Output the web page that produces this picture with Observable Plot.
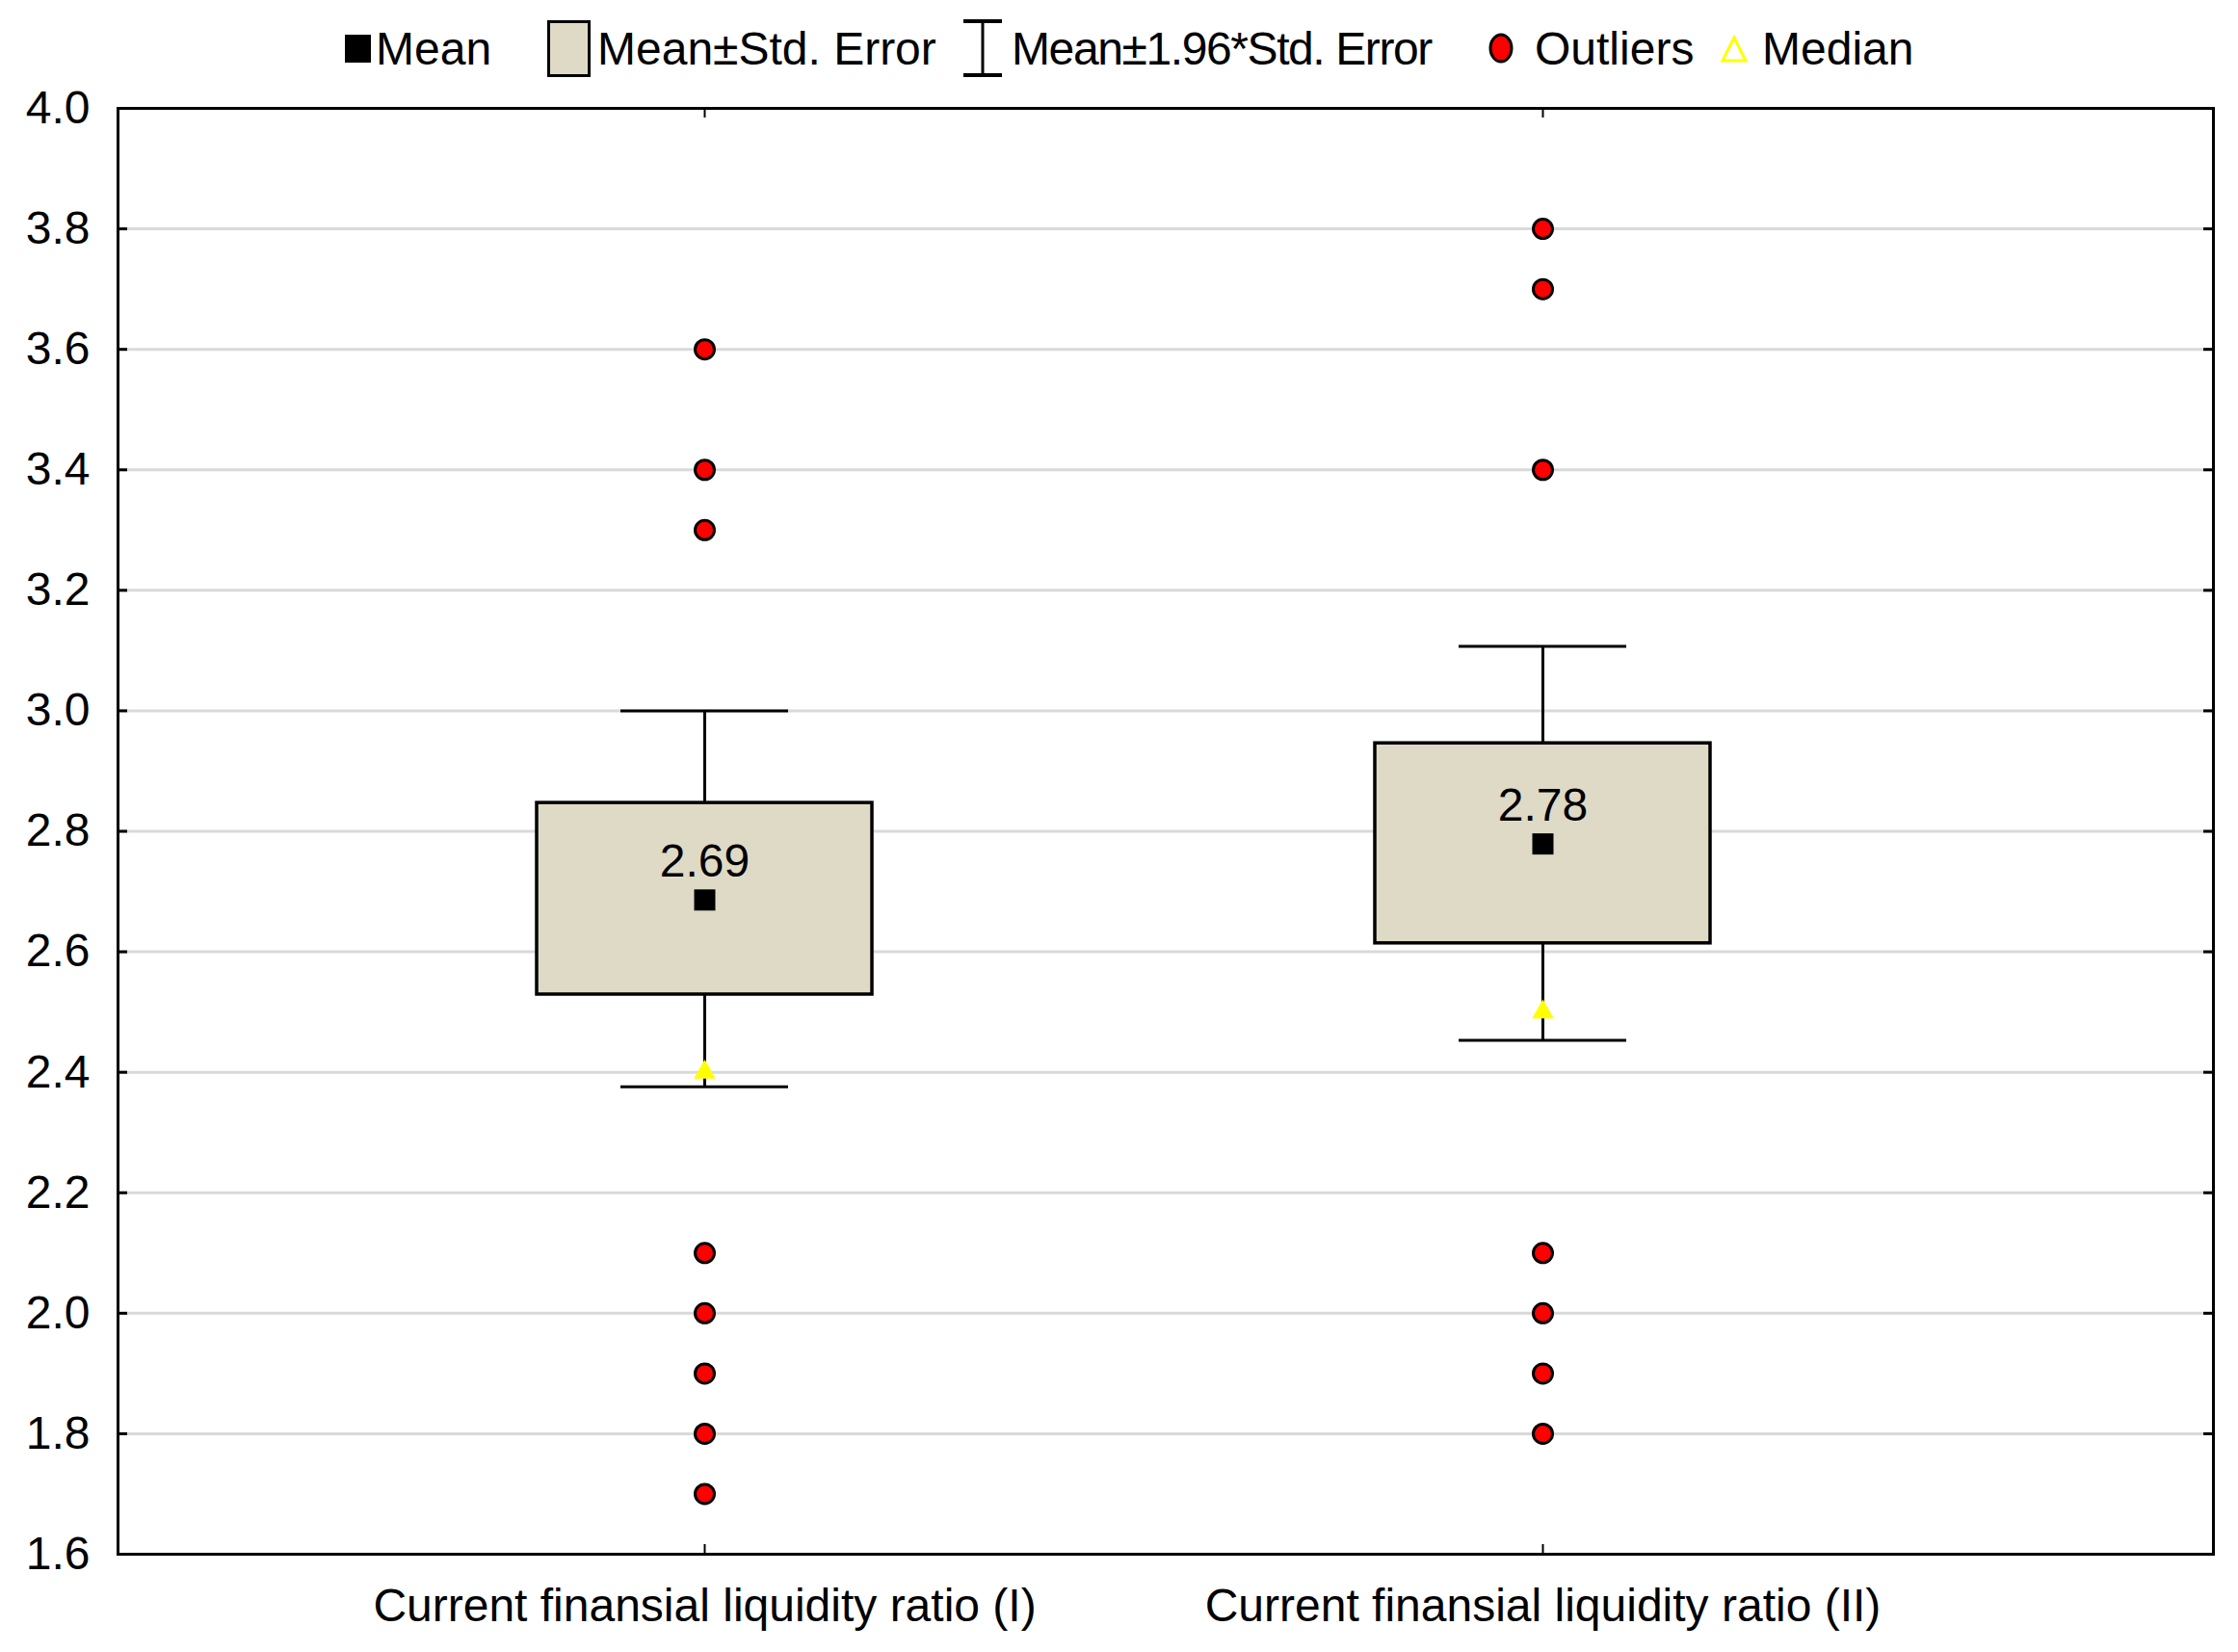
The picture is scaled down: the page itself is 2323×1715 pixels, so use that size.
<!DOCTYPE html>
<html>
<head>
<meta charset="utf-8">
<script src="https://cdn.jsdelivr.net/npm/d3@7"></script>
<script src="https://cdn.jsdelivr.net/npm/@observablehq/plot@0.6"></script>
<style>
  html, body { margin: 0; padding: 0; background: #fff; }
  #wrap { width: 2323px; }
  #legend { position: relative; width: 2323px; height: 80px; font-family: "Liberation Sans", Arial, sans-serif; font-size: 48px; line-height: 48px; color: #000; }
  #legend .t { position: absolute; top: 27px; white-space: nowrap; }
  #legend .ic { position: absolute; }
</style>
</head>
<body>
<div id="wrap">
  <div id="legend">
    <div class="ic" style="left:358px; top:36px; width:27px; height:29px; background:#000;"></div>
    <span class="t" style="left:390px;">Mean</span>
    <div class="ic" style="left:568px; top:21px; width:39px; height:53px; background:#dfdac5; border:3px solid #000;"></div>
    <span class="t" style="left:620px;">Mean±Std. Error</span>
    <svg class="ic" style="left:998px; top:19px;" width="44" height="62">
      <line x1="2" x2="42" y1="3" y2="3" stroke="#000" stroke-width="4"/>
      <line x1="2" x2="42" y1="59" y2="59" stroke="#000" stroke-width="4"/>
      <line x1="22" x2="22" y1="3" y2="59" stroke="#000" stroke-width="3"/>
    </svg>
    <span class="t" style="left:1050px; letter-spacing:-1.4px;">Mean±1.96*Std. Error</span>
    <svg class="ic" style="left:1543px; top:33px;" width="30" height="34">
      <ellipse cx="15" cy="17" rx="11" ry="14" fill="#ff0000" stroke="#000" stroke-width="3"/>
    </svg>
    <span class="t" style="left:1593px;">Outliers</span>
    <svg class="ic" style="left:1784px; top:36px;" width="32" height="30">
      <polygon points="16,3 28,27 4,27" fill="none" stroke="#ffff00" stroke-width="3"/>
    </svg>
    <span class="t" style="left:1829px;">Median</span>
  </div>
  <div id="chart"></div>
</div>
<script>
// ---- data ----
const categories = ["Current finansial liquidity ratio (I)", "Current finansial liquidity ratio (II)"];
const means   = [2.686, 2.779];
const seLow   = [2.529, 2.614];
const seHigh  = [2.847, 2.946];
const ciLow   = [2.376, 2.453];
const ciHigh  = [3.000, 3.107];
const medians = [2.40, 2.50];
const outliersI  = [3.6, 3.4, 3.3, 2.1, 2.0, 1.9, 1.8, 1.7];
const outliersII = [3.8, 3.7, 3.4, 2.1, 2.0, 1.9, 1.8];
const yTicks = [1.6, 1.8, 2.0, 2.2, 2.4, 2.6, 2.8, 3.0, 3.2, 3.4, 3.6, 3.8, 4.0];

// ---- tables built from the arrays ----
const rows = categories.map((c, i) => ({
  x: i + 1, cat: c, mean: means[i], seLow: seLow[i], seHigh: seHigh[i],
  ciLow: ciLow[i], ciHigh: ciHigh[i], median: medians[i]
}));
const outliers = [outliersI, outliersII].flatMap((arr, i) => arr.map(v => ({x: i + 1, v})));
const catX = rows.map(d => d.x);
const innerTicks = yTicks.slice(1, -1);

const W = 2323, H = 1635;
const mL = 122, mR = 26, mT = 32, mB = 102;
const innerW = W - mL - mR, innerH = H - mT - mB;
const boxHalf = 0.2, capHalf = 0.1;
const font = "'Liberation Sans', Arial, sans-serif";

const chart = Plot.plot({
  width: W, height: H,
  marginLeft: mL, marginRight: mR, marginTop: mT, marginBottom: mB,
  style: {fontFamily: font, fontSize: "48px", color: "#000", background: "#fff", overflow: "visible"},
  x: {domain: [0.3, 2.8]},
  y: {domain: [1.6, 4.0]},
  marks: [
    Plot.gridY(innerTicks, {stroke: "#d9d9d9", strokeOpacity: 1, strokeWidth: 3}),
    // y ticks inside the frame (left and right)
    Plot.tickY(innerTicks, {y: d => d, stroke: "#000", strokeWidth: 3, insetRight: innerW - 10}),
    Plot.tickY(innerTicks, {y: d => d, stroke: "#000", strokeWidth: 3, insetLeft: innerW - 10}),
    // x ticks inside the frame (top and bottom)
    Plot.tickX(catX, {x: d => d, stroke: "#000", strokeWidth: 2, insetTop: innerH - 10}),
    Plot.tickX(catX, {x: d => d, stroke: "#000", strokeWidth: 2, insetBottom: innerH - 10}),
    Plot.axisY(yTicks, {anchor: "left", tickSize: 0, tickPadding: 29, tickFormat: d3.format(".1f"), fontSize: 48, fill: "#000"}),
    Plot.axisX(catX, {anchor: "bottom", tickSize: 0, tickPadding: 35, tickFormat: d => categories[d - 1], fontSize: 48, fill: "#000", label: null}),
    Plot.frame({stroke: "#000", strokeWidth: 3}),
    // whiskers (mean ± 1.96 SE)
    Plot.ruleX(rows, {x: "x", y1: "seHigh", y2: "ciHigh", stroke: "#000", strokeWidth: 3}),
    Plot.ruleX(rows, {x: "x", y1: "ciLow", y2: "seLow", stroke: "#000", strokeWidth: 3}),
    Plot.ruleY(rows, {y: "ciHigh", x1: d => d.x - capHalf, x2: d => d.x + capHalf, stroke: "#000", strokeWidth: 3}),
    Plot.ruleY(rows, {y: "ciLow", x1: d => d.x - capHalf, x2: d => d.x + capHalf, stroke: "#000", strokeWidth: 3}),
    // box (mean ± SE)
    Plot.rect(rows, {x1: d => d.x - boxHalf, x2: d => d.x + boxHalf, y1: "seLow", y2: "seHigh", fill: "#dfdac5", stroke: "#000", strokeWidth: 3.5}),
    // mean
    Plot.dot(rows, {x: "x", y: "mean", symbol: "square", r: 12.4, fill: "#000", stroke: "none"}),
    Plot.text(rows, {x: "x", y: "mean", text: d => d.mean.toFixed(2), dy: -24, lineAnchor: "bottom", fontSize: 48, fill: "#000"}),
    // median
    Plot.dot(rows, {x: "x", y: "median", symbol: "triangle", r: 8.4, fill: "#ffff00", stroke: "none"}),
    // outliers
    Plot.dot(outliers, {x: "x", y: "v", r: 10, fill: "#ff0000", stroke: "#000", strokeWidth: 3})
  ]
});
document.getElementById("chart").appendChild(chart);
</script>
</body>
</html>
